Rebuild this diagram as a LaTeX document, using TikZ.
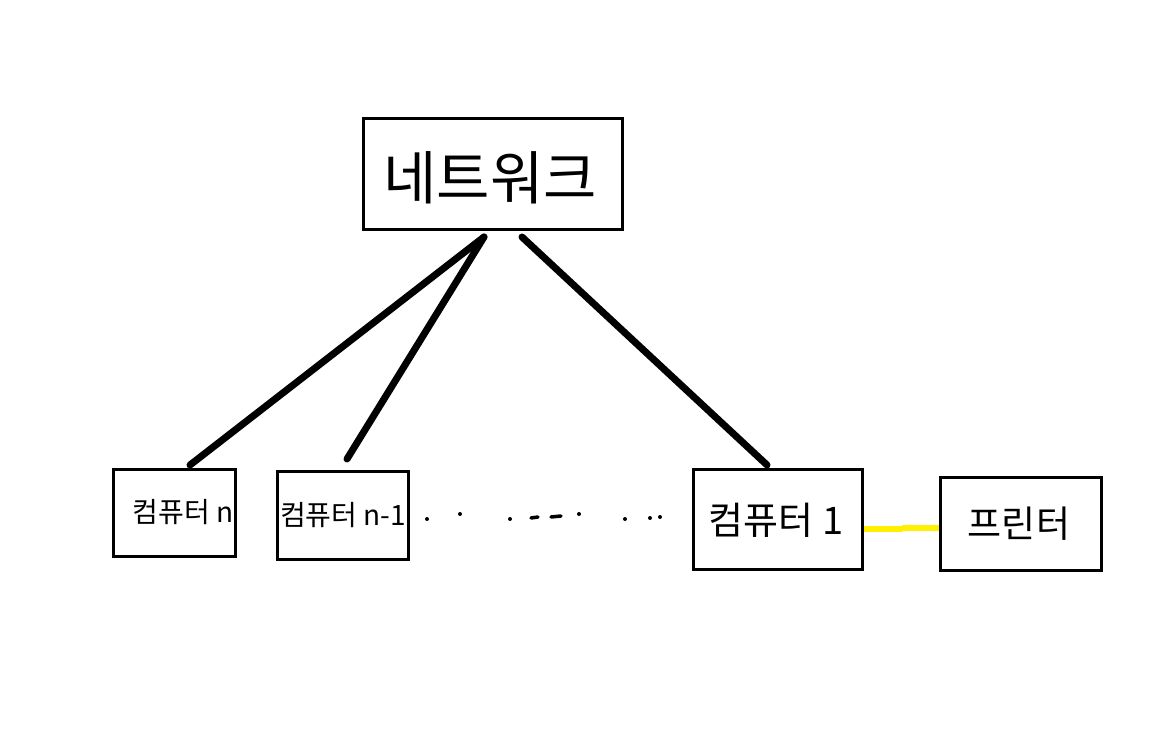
\documentclass[tikz,border=0pt]{standalone}
\usepackage{fontspec}
\newfontfamily\kr{Noto Sans CJK KR}
\definecolor{yel}{RGB}{255,240,0}
\begin{document}
\begin{tikzpicture}[x=1pt,y=-1pt,
  box/.style={draw=black,line width=3pt,rectangle,inner sep=0pt,fill=white},
  lbl/.style={inner sep=0pt,anchor=center,font=\kr},
  link/.style={line width=7pt,line cap=round,black},
  plink/.style={line width=6pt,yel},
  dot/.style={fill=black,circle,inner sep=0pt,minimum size=4pt}]
\fill[white] (0,0) rectangle (1160,734);
\useasboundingbox (0,0) rectangle (1160,734);
% boxes
\node[box,minimum width=259pt,minimum height=111pt] (net) at (493,174) {};
\node[box,minimum width=122pt,minimum height=87pt] (cn) at (174.5,513) {};
\node[box,minimum width=131pt,minimum height=88pt] (cn1) at (343,515.5) {};
\node[box,minimum width=169pt,minimum height=100pt] (c1) at (778,519.5) {};
\node[box,minimum width=161pt,minimum height=93pt] (pr) at (1021,524) {};
% labels
\node[lbl,font=\kr\fontsize{58}{62}\selectfont] (tnet) at (490,178) {네트워크};
\node[lbl,font=\kr\fontsize{28}{32}\selectfont] (tcn) at (183,512) {컴퓨터 n};
\node[lbl,font=\kr\fontsize{28}{32}\selectfont] (tcn1) at (343,515) {컴퓨터 n-1};
\node[lbl,font=\kr\fontsize{38}{42}\selectfont] (tc1) at (776,520) {컴퓨터 1};
\node[lbl,font=\kr\fontsize{37}{41}\selectfont] (tpr) at (1019,524) {프린터};
% connector end points
\coordinate (na) at (484,237);
\coordinate (nb) at (522,237);
\coordinate (ea) at (190,465);
\coordinate (eb) at (347,459);
\coordinate (ec) at (767,465);
\draw[link] (na) -- (ea);
\draw[link] (na) -- (eb);
\draw[link] (nb) -- (ec);
% printer link
\coordinate (ym1) at (902,529);
\coordinate (ym2) at (902,527.5);
\draw[plink] (c1.east |- ym1) -- ([xshift=1pt]ym1);
\draw[plink] (ym2) -- (pr.west |- ym2);
% dots
\node[dot] (d1) at (427,519) {};
\node[dot] (d2) at (460,514) {};
\node[dot] (d3) at (510,519) {};
\draw[line width=3.5pt,line cap=round] (531,518) -- (538,517);
\draw[line width=3.5pt,line cap=round] (551,517) -- (561,516);
\node[dot] (d4) at (579,514) {};
\node[dot] (d5) at (625,519) {};
\node[dot] (d6) at (650,518) {};
\node[dot] (d7) at (660,517) {};
\end{tikzpicture}
\end{document}
